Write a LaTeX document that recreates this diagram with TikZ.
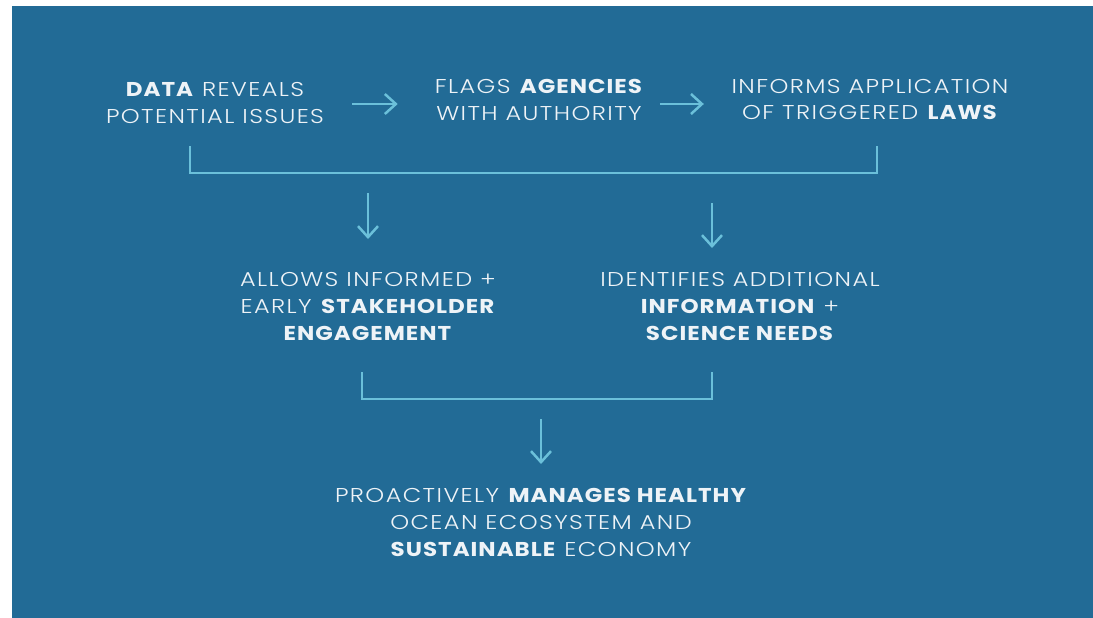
\documentclass[tikz,border=0pt]{standalone}
\usepackage{fontspec}
\setmainfont{Poppins}[UprightFont=* Light, BoldFont=* Bold,
	UprightFeatures={FakeStretch=1.2, LetterSpace=7},
	BoldFeatures={FakeStretch=1.15, LetterSpace=5}]
\usetikzlibrary{arrows.meta}
\definecolor{oceanblue}{HTML}{226B96}
\definecolor{linecyan}{HTML}{6BC0DA}
\definecolor{textwhite}{HTML}{EEF3F7}
\begin{document}
\begin{tikzpicture}[x=1pt, y=-1pt,
	box/.style={text=textwhite, align=center, inner sep=0pt, font=\fontsize{20}{27}\selectfont},
	line/.style={draw=linecyan, line width=2.5pt},
	arr/.style={line, -{Straight Barb[length=11pt, width=20pt, line width=2.5pt]}}]
	\useasboundingbox (0,0) rectangle (1093,618);
	\fill[white] (0,0) rectangle (1093,618);
	\fill[oceanblue] (12,6) rectangle (1093,618);
	% top row
	\node[box, minimum width=222pt] (data) at (215,102.5) {\textbf{DATA} REVEALS\\POTENTIAL ISSUES};
	\node[box, minimum width=207pt] (flags) at (539,99.5) {FLAGS \textbf{AGENCIES}\\WITH AUTHORITY};
	\node[box, minimum width=275pt] (informs) at (870,99.5) {INFORMS APPLICATION\\OF TRIGGERED \textbf{LAWS}};
	% middle row
	\node[box] (allows) at (368,306) {ALLOWS INFORMED +\\EARLY \textbf{STAKEHOLDER}\\\textbf{ENGAGEMENT}};
	\node[box] (identifies) at (740,306) {IDENTIFIES ADDITIONAL\\\textbf{INFORMATION} +\\\textbf{SCIENCE NEEDS}};
	% bottom
	\node[box] (manages) at (541,522) {PROACTIVELY \textbf{MANAGES HEALTHY}\\OCEAN ECOSYSTEM AND\\\textbf{SUSTAINABLE} ECONOMY};
	\coordinate (arw) at (0,104);
	\coordinate (bar1) at (0,173);
	\coordinate (bar2) at (0,399);
	\coordinate (b1l) at (190,146);
	\coordinate (b1r) at (877,146);
	\coordinate (b2l) at (362,372);
	\coordinate (b2r) at (712,372);
	\draw[arr, shorten <=26pt, shorten >=37pt] (data.east |- arw) -- (flags.west |- arw);
	\draw[arr, shorten <=16.5pt, shorten >=27.5pt] (flags.east |- arw) -- (informs.west |- arw);
	\draw[line] (b1l) |- (bar1 -| b1r) -- (b1r);
	\draw[arr] (bar1 -| allows) ++(0,20) -- ++(0,46);
	\draw[arr] (bar1 -| b2r) ++(0,30) -- ++(0,45);
	\draw[line] (b2l) |- (bar2 -| b2r) -- (b2r);
	\draw[arr] (bar2 -| manages) ++(0,20) -- ++(0,45);
\end{tikzpicture}
\end{document}
